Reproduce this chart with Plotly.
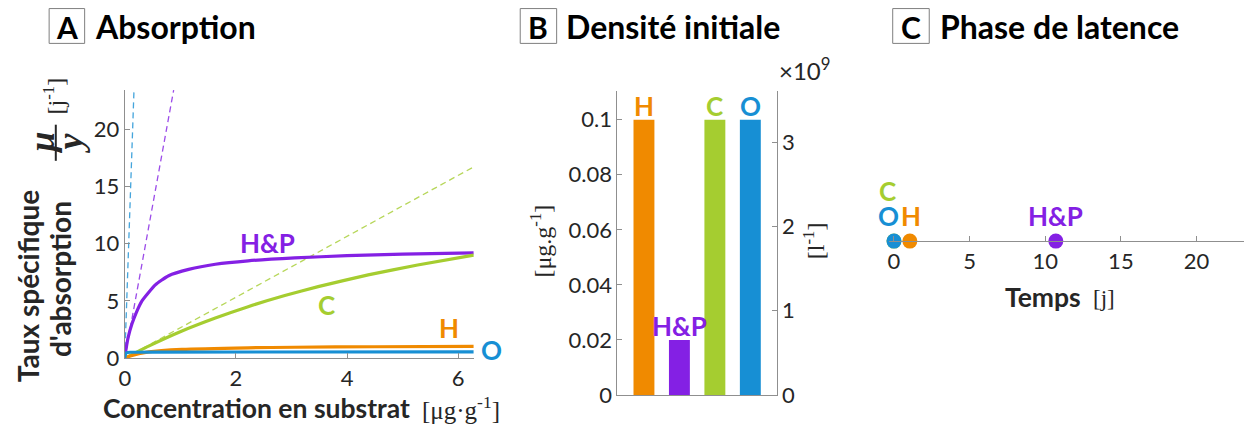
import plotly.graph_objects as go

# Page geometry: body has an 8px margin; the picture is compressed vertically (~0.966).
OFF = 8
SY = 0.966
W, H = 1252 - 2 * OFF, 426

# ---------------- Data ----------------
# Panel A: specific absorption rate mu/y vs substrate concentration
hp_x = [0, 0.02, 0.06, 0.13, 0.2, 0.31, 0.55, 0.79, 1.15, 1.63, 2.22, 3.06, 4.0, 5.0, 6.28]
hp_y = [0, 0.7, 1.8, 3.0, 3.9, 5.0, 6.4, 7.2, 7.75, 8.2, 8.5, 8.75, 8.95, 9.08, 9.2]
c_x = [0, 0.43, 1.03, 1.63, 2.22, 2.88, 3.48, 4.38, 5.27, 6.28]
c_y = [0, 1.06, 2.38, 3.51, 4.5, 5.47, 6.25, 7.27, 8.14, 9.0]
h_x = [0, 0.1, 0.43, 1.03, 2.22, 3.06, 4.5, 6.28]
h_y = [0, 0.2, 0.55, 0.77, 0.91, 0.96, 1.0, 1.03]
o_x = [0, 0.02, 0.05, 0.1, 0.5, 6.28]
o_y = [0, 0.44, 0.5, 0.52, 0.54, 0.55]
# initial-slope dashed lines (start / end points)
hp_dash_x = [0, 0.88]
hp_dash_y = [0, 23.4]
c_dash_x = [0, 6.28]
c_dash_y = [0, 16.7]
o_dash_x = [0, 0.166]
o_dash_y = [0, 23.4]

# Panel B: initial density
groups = ["H", "H&P", "C", "O"]
density = [0.1, 0.02, 0.1, 0.1]           # [µg.g-1]
density_cells = [3.27, 0.654, 3.27, 3.27]  # x1e9 [l-1]

# Panel C: lag phase [j]
lag_groups = ["C", "O", "H", "H&P"]
lag = [0, 0, 1.05, 10.7]

colors = {"H": "#F08A00", "H&P": "#8420E4", "C": "#A5CD30", "O": "#178FD4"}

SANS = "Lato"
SERIF = "Liberation Serif"
AX = "#8f8f8f"
TXT = "#262626"


def px(x):
    return (x - OFF) / W


def py(y):
    return 1 - (y / SY - OFF) / H


fig = go.Figure()

# ---- Panel A traces ----
for xs, ys, col in [(o_dash_x, o_dash_y, colors["O"]), (hp_dash_x, hp_dash_y, colors["H&P"]),
                    (c_dash_x, c_dash_y, colors["C"])]:
    fig.add_trace(go.Scatter(x=xs, y=ys, mode="lines", xaxis="x", yaxis="y",
                             line=dict(color=col, width=1.3, dash="6px,4px"), opacity=0.8,
                             showlegend=False, hoverinfo="skip"))
for xs, ys, g in [(hp_x, hp_y, "H&P"), (c_x, c_y, "C"), (h_x, h_y, "H"), (o_x, o_y, "O")]:
    fig.add_trace(go.Scatter(x=xs, y=ys, mode="lines", xaxis="x", yaxis="y",
                             line=dict(color=colors[g], width=3.2, shape="spline", smoothing=0.5),
                             showlegend=False, hoverinfo="skip"))

# ---- Panel B traces ----
fig.add_trace(go.Bar(x=[1, 2, 3, 4], y=density, xaxis="x2", yaxis="y2", width=0.59,
                     marker=dict(color=[colors[g] for g in groups], line=dict(width=0)),
                     showlegend=False, hoverinfo="skip"))
fig.add_trace(go.Scatter(x=[1, 2, 3, 4], y=density_cells, xaxis="x2", yaxis="y3", mode="markers",
                         marker=dict(opacity=0), showlegend=False, hoverinfo="skip"))

# ---- Panel C traces ----
fig.add_trace(go.Scatter(x=lag, y=[0] * len(lag), xaxis="x3", yaxis="y4", mode="markers",
                         marker=dict(size=15, color=[colors[g] for g in lag_groups]),
                         cliponaxis=False, showlegend=False, hoverinfo="skip"))

tickfont = dict(family=SANS, size=22, color=TXT)
common = dict(showgrid=False, zeroline=False, showline=True, linecolor=AX, linewidth=1,
              ticks="inside", ticklen=5, tickcolor=AX, tickfont=tickfont)

# Panel A geometry (pixels in the reference picture)
ax_l, ax_r, ax_t, ax_b = 119.3, 470, 89.5, 356.7
# Panel B geometry
bx_l, bx_r, bx_t, bx_b = 614.3, 774.3, 90, 393.3
# Panel C geometry
cx_l, c_axis = 887.7, 240
cx_r = 1252 - OFF

fig.update_layout(
    width=W, height=H, margin=dict(l=0, r=0, t=0, b=0),
    paper_bgcolor="white", plot_bgcolor="white",
    font=dict(family=SANS, color=TXT),
    xaxis=dict(domain=[px(ax_l), px(ax_r)], range=[0, 6.28], anchor="y",
               tickvals=[0, 2, 4, 6], **common),
    yaxis=dict(domain=[py(ax_b), py(ax_t)], range=[0, 23.4], anchor="x",
               tickvals=[0, 5, 10, 15, 20], **common),
    xaxis2=dict(domain=[px(bx_l), px(bx_r)], range=[0.25, 4.74], anchor="y2",
                showticklabels=False, ticks="", showgrid=False, zeroline=False,
                showline=True, linecolor=AX, linewidth=1),
    yaxis2=dict(domain=[py(bx_b), py(bx_t)], range=[0, 0.1106], anchor="x2",
                tickvals=[0, 0.02, 0.04, 0.06, 0.08, 0.1],
                ticktext=["0", "0.02", "0.04", "0.06", "0.08", "0.1"], **common),
    yaxis3=dict(overlaying="y2", side="right", anchor="x2", range=[0, 3.616],
                tickvals=[0, 1, 2, 3], **common),
    xaxis3=dict(domain=[px(cx_l), 1], range=[-0.3, (cx_r - 892.3) / 15.2], anchor="y4",
                tickvals=[0, 5, 10, 15, 20], **common),
    yaxis4=dict(domain=[py(c_axis), py(c_axis - 60)], range=[0, 1], anchor="x3",
                visible=False),
)

ann = []


def text(x, y, t, size, bold=False, color=TXT, family=SANS, angle=0, xanchor="center",
         yanchor="middle"):
    if bold:
        t = "<b>" + t + "</b>"
    ann.append(dict(x=px(x), y=py(y), xref="paper", yref="paper", text=t, showarrow=False,
                    textangle=angle, xanchor=xanchor, yanchor=yanchor, borderpad=0,
                    font=dict(family=family, size=size, color=color)))


# Panel titles with boxed letters
shapes = []
for letter, bx0, bx1, title, tx in [("A", 43.3, 79, "Absorption", 88),
                                    ("B", 516.7, 553.3, "Densité initiale", 562),
                                    ("C", 891, 927.7, "Phase de latence", 938)]:
    shapes.append(dict(type="rect", xref="paper", yref="paper", x0=px(bx0), x1=px(bx1),
                       y0=py(43), y1=py(8.3), line=dict(color="#7f7f7f", width=1)))
    text((bx0 + bx1) / 2, 26.5, letter, 30, bold=True, color="black")
    text(tx, 26.5, title, 32, bold=True, color="black", xanchor="left")

# Panel A axis titles
text(252, 406, "Concentration en substrat", 26.5, bold=True)
text(457, 406, "[μg·g<sup>-1</sup>]", 25, family=SERIF)
text(22, 285, "Taux spécifique", 28, bold=True, angle=-90)
text(54, 278, "d'absorption", 28, bold=True, angle=-90)
text(36, 142, "<b><i>μ</i></b>", 36, family=SERIF, angle=-90)
text(64, 142, "<b><i>y</i></b>", 36, family=SERIF, angle=-90)
shapes.append(dict(type="line", xref="paper", yref="paper", x0=px(50), x1=px(50),
                   y0=py(124), y1=py(160), line=dict(color=TXT, width=2)))
text(48, 95, "[j<sup>-1</sup>]", 24, family=SERIF, angle=-90)

# Panel A series labels (placed near curve ends)
for t, x, y in [("H&P", 263, 241.7), ("C", 321.7, 303.3), ("H", 445, 326.7), ("O", 488.3, 348.3)]:
    text(x, y, t, 26, bold=True, color=colors[t])

# Panel B labels
text(538, 240, "[μg.g<sup>-1</sup>]", 24, family=SERIF, angle=-90)
text(812, 240, "[l<sup>-1</sup>]", 24, family=SERIF, angle=-90)
text(803, 69, "×10<sup>9</sup>", 24)
for i, g in enumerate(groups):
    ann.append(dict(x=i + 1, y=density[i], xref="x2", yref="y2", text="<b>" + g + "</b>",
                    showarrow=False, yanchor="bottom", yshift=-3, borderpad=0,
                    font=dict(family=SANS, size=26, color=colors[g])))

# Panel C labels
for g, xs, ys in [("O", -5, 8), ("C", -6, 33), ("H", 1, 8), ("H&P", 0, 8)]:
    i = lag_groups.index(g)
    ann.append(dict(x=lag[i], y=0, xref="x3", yref="y4", text="<b>" + g + "</b>",
                    showarrow=False, yanchor="bottom", xshift=xs, yshift=ys, borderpad=0,
                    font=dict(family=SANS, size=26, color=colors[g])))
text(1042, 296, "Temps", 26.5, bold=True)
text(1103, 297, "[j]", 23, family=SERIF)

fig.update_layout(annotations=ann, shapes=shapes)
fig.write_html("out.html")
